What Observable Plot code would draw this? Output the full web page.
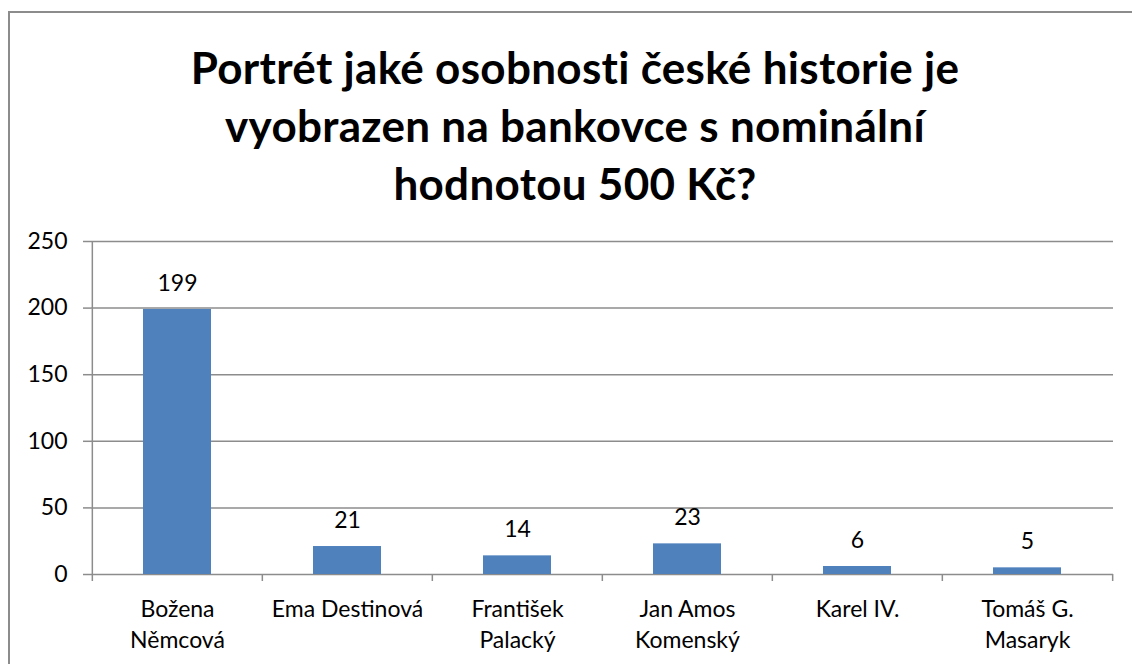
<!DOCTYPE html>
<html>
<head>
<meta charset="utf-8">
<script src="https://cdn.jsdelivr.net/npm/d3@7"></script>
<script src="https://cdn.jsdelivr.net/npm/@observablehq/plot@0.6"></script>
<style>
  html, body { margin: 0; padding: 0; background: #fff; }
  body { width: 1132px; height: 664px; position: relative; overflow: hidden; font-family: Lato, "Open Sans", sans-serif; }
  #frame { position: absolute; left: 8px; top: 11px; width: 1200px; height: 700px; border-top: 2px solid #8c8c8c; border-left: 2px solid #8c8c8c; box-sizing: border-box; }
  #title { position: absolute; left: 0; top: 38px; width: 1150px; text-align: center; font-weight: 700; font-size: 44px; line-height: 58px; letter-spacing: 0.3px; color: #000; }
  #chart { position: absolute; left: 0; top: 0; }
</style>
</head>
<body>
<div id="frame"></div>
<div id="title">Portrét jaké osobnosti české historie je<br>vyobrazen na bankovce s nominální<br>hodnotou 500 Kč?</div>
<div id="chart"></div>
<script>
const categories = ["Božena\nNěmcová", "Ema Destinová", "František\nPalacký", "Jan Amos\nKomenský", "Karel IV.", "Tomáš G.\nMasaryk"];
const values = [199, 21, 14, 23, 6, 5];
const yTicks = [0, 50, 100, 150, 200, 250];

const data = categories.map((c, i) => ({name: c, value: values[i]}));
const W = 1132, H = 664;
const mL = 91, mR = 19, mT = 241, mB = 90;
const step = (W - mL - mR) / categories.length;
const grid = "#8c8c8c";
const fs = 23;

const chart = Plot.plot({
  width: W,
  height: H,
  marginLeft: mL,
  marginRight: mR,
  marginTop: mT,
  marginBottom: mB,
  style: {fontFamily: "Lato, 'Open Sans', sans-serif", fontSize: fs + "px", color: "#000", background: "transparent"},
  x: {domain: categories, paddingInner: 0.6, paddingOuter: 0.3, label: null},
  y: {domain: [0, 250], ticks: yTicks, label: null},
  marks: [
    Plot.ruleY(yTicks, {stroke: grid, strokeWidth: 1.5, strokeOpacity: 1}),
    Plot.barY(data, {x: "name", y: "value", fill: "#4F81BD"}),
    Plot.text(data, {x: "name", y: "value", text: d => String(d.value), dy: -26, fontSize: fs, fill: "#000"}),
    Plot.axisY({ticks: yTicks, tickSize: 8, tickPadding: 16, stroke: grid, strokeWidth: 1.5, fontSize: fs, fill: "#000", label: null}),
    Plot.ruleX(categories.slice(0, 1), {x: d => d, dx: -step / 2, y1: 0, y2: 250, stroke: grid, strokeWidth: 1.5}),
    Plot.ruleX(categories, {x: d => d, dx: -step / 2, y1: 0, y2: 0, insetBottom: -7, stroke: grid, strokeWidth: 1.5}),
    Plot.ruleX(categories.slice(-1), {x: d => d, dx: step / 2, y1: 0, y2: 0, insetBottom: -7, stroke: grid, strokeWidth: 1.5}),
    Plot.axisX({tickSize: 0, tickPadding: 20, fontSize: fs, fill: "#000", lineHeight: 31 / fs, label: null})
  ]
});
document.getElementById("chart").appendChild(chart);
</script>
</body>
</html>
